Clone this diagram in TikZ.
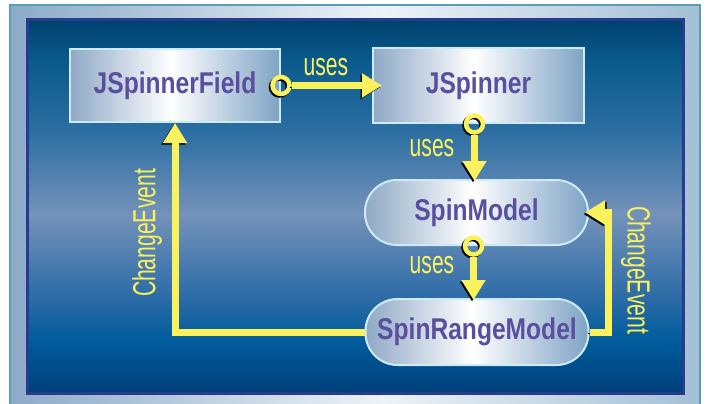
\documentclass[tikz,border=0pt]{standalone}
\usepackage{fontspec}
\usetikzlibrary{arrows.meta}

\newfontfamily\clsfamily[FakeStretch=0.82]{Liberation Sans}
\newfontfamily\lblfamily[FakeStretch=0.66]{Liberation Sans}

\definecolor{evyellow}{HTML}{FAF25C}
\definecolor{clstext}{HTML}{5A4E9E}
\definecolor{clsedge}{HTML}{CDEBF7}
\definecolor{clsleft}{HTML}{8FA9C6}
\definecolor{clsright}{HTML}{7EA3C5}
\definecolor{frameleft}{HTML}{8CABC9}
\definecolor{framemid}{HTML}{EDF3F8}
\definecolor{frameright}{HTML}{A3BFD6}
\definecolor{frameedge}{HTML}{5A9DB4}
\definecolor{bgedge}{HTML}{283C8E}
\definecolor{bgA}{HTML}{003F7A}
\definecolor{bgB}{HTML}{005C9C}
\definecolor{bgC}{HTML}{2A6AA6}
\definecolor{bgD}{HTML}{7492BA}
\definecolor{bgE}{HTML}{2C6EA2}
\definecolor{bgF}{HTML}{0A5A8C}
\definecolor{bgG}{HTML}{00426F}

\pgfdeclarehorizontalshading{clsshade}{100bp}{color(0bp)=(clsleft); color(25bp)=(clsleft);
  color(49bp)=(white); color(75bp)=(clsright); color(100bp)=(clsright)}
\pgfdeclarehorizontalshading{frameshade}{100bp}{color(0bp)=(frameleft); color(25bp)=(frameleft);
  color(52bp)=(framemid); color(75bp)=(frameright); color(100bp)=(frameright)}
\pgfdeclareverticalshading{bgshade}{100bp}{color(0bp)=(bgA); color(25bp)=(bgA);
  color(32bp)=(bgB); color(37.5bp)=(bgC); color(49bp)=(bgD); color(60bp)=(bgE);
  color(69.6bp)=(bgF); color(75bp)=(bgG); color(100bp)=(bgG)}

\newcommand{\clsfont}{\clsfamily\bfseries\fontsize{30}{32}\selectfont}
\newcommand{\lblfont}{\lblfamily\fontsize{32}{34}\selectfont}

\tikzset{cls/.style={rectangle, draw=clsedge, line width=2pt, shade, shading=clsshade,
    minimum width=210pt, minimum height=73pt, inner sep=0pt, font=\clsfont, text=clstext},
  mdl/.style={cls, rounded corners=32pt, minimum width=223pt, minimum height=65pt},
  blackedge/.style={preaction={draw=black, transform canvas={shift={#1}}}},
  wire/.style={draw=evyellow, line width=7pt, -{Triangle[width=23pt,length=20pt]},
    blackedge={(-1.5pt,-1.5pt)}},
  hook/.style={circle, draw=evyellow, line width=4.5pt, minimum size=17pt, inner sep=0pt,
    blackedge={(-1.5pt,-1.5pt)}},
  lbl/.style={font=\lblfont, text=evyellow, inner sep=0pt},
}

\begin{document}
\begin{tikzpicture}[x=1pt,y=-1pt]
\useasboundingbox (0,0) rectangle (707,404);
% frame and backdrop
\path[shade, shading=frameshade, draw=frameedge, line width=1.5pt] (10,5) rectangle (700,412);
\path[shade, shading=bgshade] (27,20) rectangle (683,393);
\draw[bgedge, line width=3pt] (27,20) rectangle (683,393);

% classes
\node[cls] (field) at (175,85.5) {JSpinnerField};
\node[cls, minimum width=211pt, minimum height=75pt] (spinner) at (478.5,85.5) {\raisebox{-4pt}{JSpinner}};
\node[mdl] (model) at (476.5,212.5) {SpinModel};
\node[mdl, minimum height=66pt] (range) at (477,332) {SpinRangeModel};

% uses
\node[hook] (h1) at (field.east) {};
\draw[wire, shorten >=-10pt] (h1) -- (spinner);
\node[lbl] (u1) at (326,67) {uses};
\node[hook] (h2) at ([xshift=-4pt]spinner.south) {};
\draw[wire, shorten >=-2pt] (h2) -- (h2 |- model.north);
\node[lbl] (u2) at (432,148) {uses};
\node[hook] (h3) at ([xshift=-3pt]model.south) {};
\draw[wire, shorten >=-2pt] (h3) -- (h3 |- range.north);
\node[lbl] (u3) at (432,265) {uses};

% change events
\draw[wire] (range.west) -| (field.south);
\node[lbl, rotate=90] (e1) at (147,233) {ChangeEvent};
\draw[wire, blackedge={(1.5pt,-1.5pt)}, shorten >=-4pt] (range.east) -- ++(19,0) |- (model.east);
\node[lbl, rotate=-90] (e2) at (636,270) {ChangeEvent};
\end{tikzpicture}
\end{document}
